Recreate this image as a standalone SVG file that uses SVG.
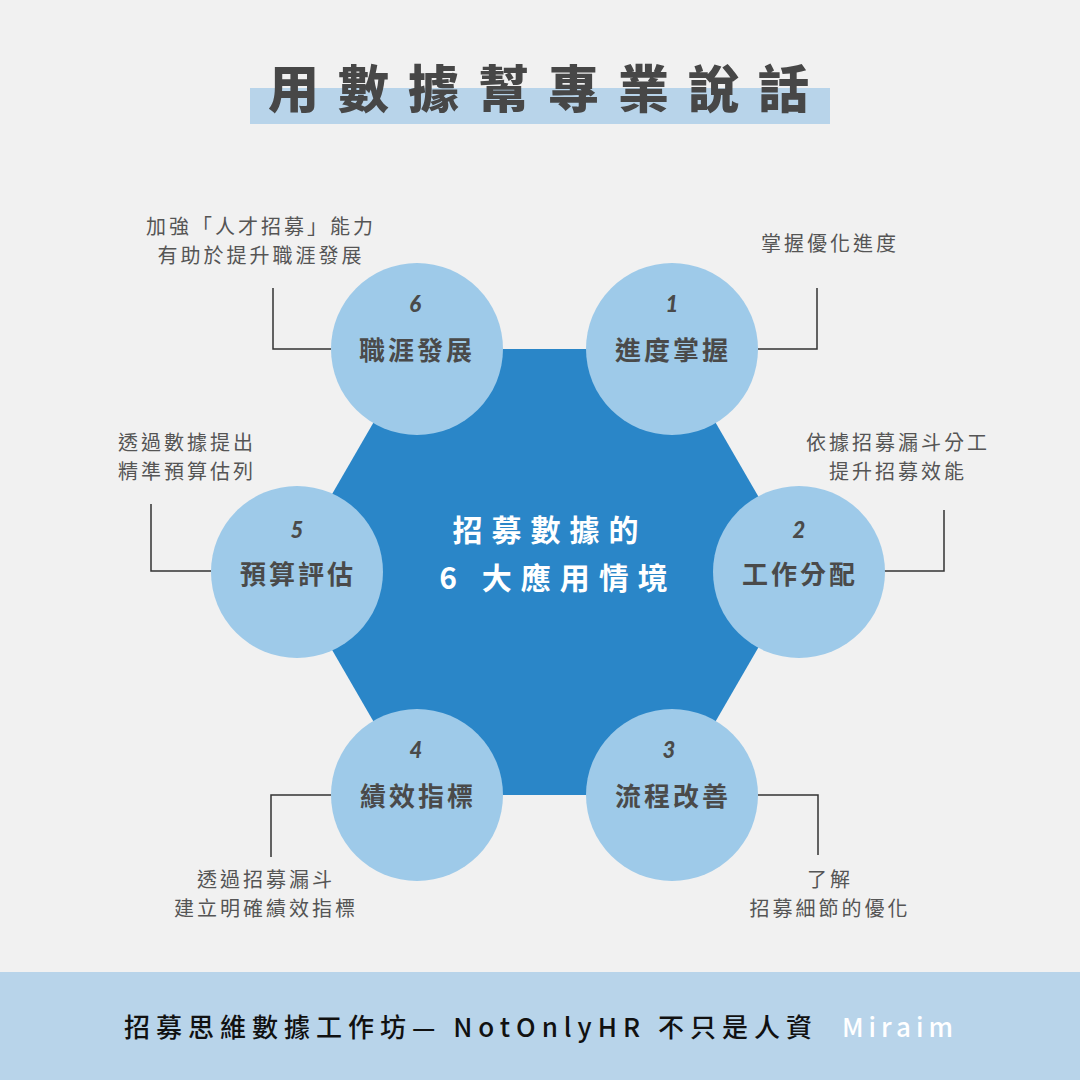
<svg xmlns="http://www.w3.org/2000/svg" width="1080" height="1080" viewBox="0 0 1080 1080">
<style>
.cjk{font-family:"Noto Sans CJK TC","Noto Sans CJK SC",sans-serif}
.title{font-size:51px;font-weight:900;fill:#474747;letter-spacing:19px}
.num{font-family:Lato,"Noto Sans",sans-serif;font-style:italic;font-weight:900;font-size:22px;fill:#4a4a4a;text-anchor:middle}
.lab{font-size:26px;font-weight:700;fill:#4a4a4a;text-anchor:middle;letter-spacing:3px}
.note{font-size:20px;fill:#555;text-anchor:middle;letter-spacing:3px}
.ctr{font-size:30px;font-weight:700;fill:#fff;text-anchor:middle;letter-spacing:9px}
.foot{font-size:26px;font-weight:500;fill:#111;letter-spacing:6px}
.circ{fill:#9ecae9}
.conn{fill:none;stroke:#333;stroke-width:1.5}
</style>
<rect width="1080" height="1080" fill="#f1f1f1"/>
<g id="title">
<rect x="250" y="88" width="580" height="36" fill="#b8d4ea"/>
<text class="cjk title" x="268" y="108">用數據幫專業說話</text>
</g>
<g id="hexagon">
<polygon points="416,349 673,349 802,572 673,795 416,795 287,572" fill="#2a86c8"/>
<text class="cjk ctr" x="550" y="541">招募數據的</text>
<text class="cjk ctr" x="558" y="589">6 大應用情境</text>
</g>
<g id="connectors">
<polyline class="conn" points="273,288 273,349 331,349"/>
<polyline class="conn" points="758,349 817,349 817,288"/>
<polyline class="conn" points="151,504 151,571 211,571"/>
<polyline class="conn" points="884,571 944,571 944,510"/>
<polyline class="conn" points="331,795 271,795 271,857"/>
<polyline class="conn" points="758,795 818,795 818,855"/>
</g>
<g id="node6">
<circle class="circ" cx="417" cy="349" r="86"/>
<text class="num" x="415" y="312">6</text>
<text class="cjk lab" x="417" y="360">職涯發展</text>
</g>
<g id="node1">
<circle class="circ" cx="672" cy="349" r="86"/>
<text class="num" x="672" y="312">1</text>
<text class="cjk lab" x="673" y="360">進度掌握</text>
</g>
<g id="node2">
<circle class="circ" cx="799" cy="572" r="86"/>
<text class="num" x="799" y="538">2</text>
<text class="cjk lab" x="800" y="584">工作分配</text>
</g>
<g id="node3">
<circle class="circ" cx="672" cy="795" r="86"/>
<text class="num" x="669" y="758">3</text>
<text class="cjk lab" x="673" y="806">流程改善</text>
</g>
<g id="node4">
<circle class="circ" cx="417" cy="795" r="86"/>
<text class="num" x="416" y="758">4</text>
<text class="cjk lab" x="418" y="806">績效指標</text>
</g>
<g id="node5">
<circle class="circ" cx="297" cy="572" r="86"/>
<text class="num" x="297" y="538">5</text>
<text class="cjk lab" x="298" y="584">預算評估</text>
</g>
<g id="notes">
<text class="cjk note" x="261" y="234">加強「人才招募」能力</text>
<text class="cjk note" x="261" y="263">有助於提升職涯發展</text>
<text class="cjk note" x="830" y="251">掌握優化進度</text>
<text class="cjk note" x="187" y="450">透過數據提出</text>
<text class="cjk note" x="187" y="479">精準預算估列</text>
<text class="cjk note" x="898" y="450">依據招募漏斗分工</text>
<text class="cjk note" x="898" y="479">提升招募效能</text>
<text class="cjk note" x="266" y="887">透過招募漏斗</text>
<text class="cjk note" x="266" y="916">建立明確績效指標</text>
<text class="cjk note" x="830" y="887">了解</text>
<text class="cjk note" x="830" y="916">招募細節的優化</text>
</g>
<g id="footer">
<rect x="0" y="972" width="1080" height="108" fill="#b8d4ea"/>
<text class="cjk foot" x="124" y="1037">招募思維數據工作坊— NotOnlyHR 不只是人資</text>
<text class="cjk foot" x="842" y="1037" style="fill:#fff;letter-spacing:5px">Miraim</text>
</g>
</svg>
